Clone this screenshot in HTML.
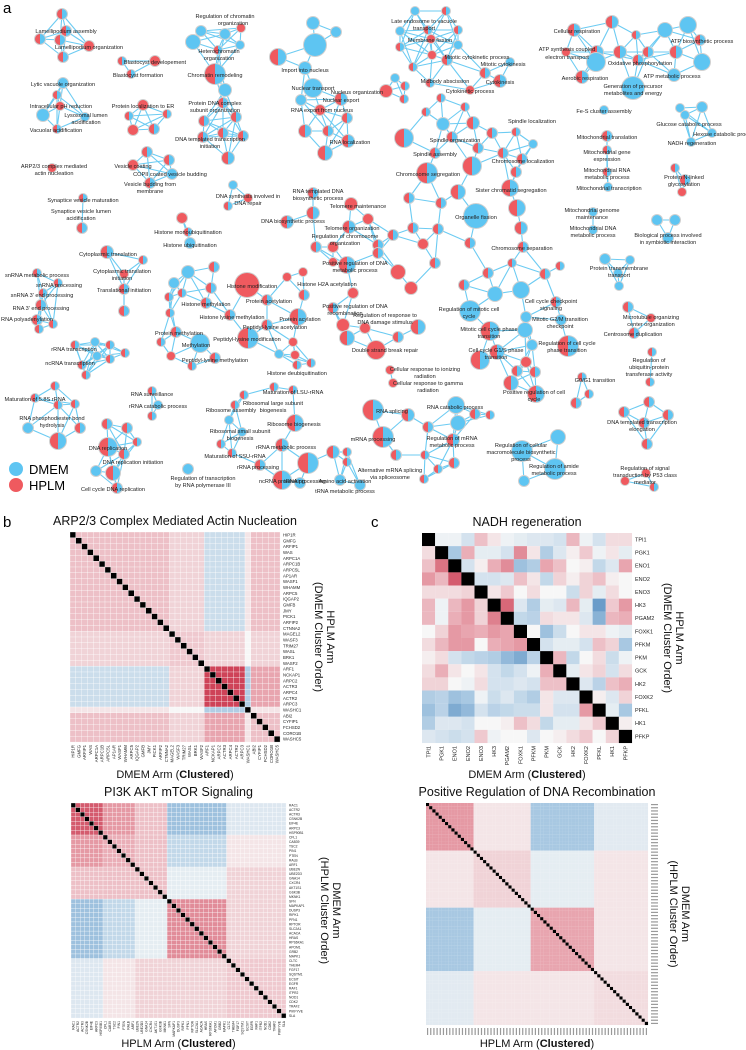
<!DOCTYPE html>
<html><head><meta charset="utf-8"><style>
html,body{margin:0;padding:0;background:#fff;}
svg{display:block;font-family:"Liberation Sans",Arial,sans-serif;}
</style></head><body>
<svg id="fig" width="746" height="1050" viewBox="0 0 746 1050" xmlns="http://www.w3.org/2000/svg">
<g id="net"></g>
<g id="hm"></g>
<text x="3" y="13" font-size="15">a</text>
<text x="3" y="527" font-size="15">b</text>
<text x="371" y="527" font-size="15">c</text>
<g>
<circle cx="16" cy="469" r="7" fill="#5ec5f2"/>
<text x="29" y="474" font-size="13">DMEM</text>
<circle cx="16" cy="485" r="7" fill="#ef5a5f"/>
<text x="29" y="490" font-size="13">HPLM</text>
</g>
</svg>
<script>
// ---------- Network data ----------
const nodes = [
[62,14,5,'h',1],[66,31,5,'h',1],[40,39,5,'h',1],[60,40,5,'h',1],[89,46,5,'r',1],[63,57,5,'h',1],
[122,61,4,'h',2],[155,61,5,'r',2],[131,74,4,'h',2],
[193,42,7,'b',3],[201,31,5,'b',3],[225,34,5,'b',3],[241,28,4,'r',3],[240,45,4,'b',3],[218,50,4,'h',3],[215,74,10,'h',3],[225,90,6,'b',3],
[223,103,5,'h',3],[236,117,5,'h',3],[204,121,5,'h',3],[223,133,5,'h',3],[243,136,5,'h',3],[203,137,5,'h',3],[228,158,6,'h',3],
[313,23,6,'b',4],[336,32,5,'b',4],[315,45,11,'b',4],[278,57,8,'h',4],[305,68,6,'b',4],[313,88,9,'b',4],[301,100,5,'b',4],[341,99,6,'h',4],[347,118,5,'h',4],[320,110,5,'r',4],[305,131,6,'h',4],[328,131,5,'h',4],[348,141,6,'h',4],[325,153,7,'h',4],
[63,83,5,'b',5],[57,95,4,'h',5],[60,106,4,'r',5],[43,115,6,'b',5],[85,117,4,'b',5],[57,129,4,'h',5],
[143,105,5,'r',6],[129,116,4,'h',6],[167,114,4,'h',6],[133,130,5,'r',6],[154,129,5,'h',6],
[52,168,4,'r',8],
[147,152,5,'h',9],[169,160,5,'h',9],[133,165,5,'r',9],[172,174,5,'b',9],[150,183,5,'h',9],
[233,185,4,'b',10],[248,198,4,'r',10],[228,206,4,'h',10],
[83,198,4,'h',11],[82,228,5,'h',11],
[182,218,5,'r',12],[188,232,4,'h',12],[190,243,5,'b',12],
[313,193,5,'h',13],[351,204,6,'r',13],[313,213,6,'h',13],[287,222,6,'h',13],[349,227,6,'h',13],[368,219,5,'r',13],[333,247,5,'r',13],[316,247,5,'h',13],[378,245,5,'h',13],[393,235,5,'h',13],[413,228,5,'h',13],[438,229,5,'h',13],[423,244,5,'r',13],[409,198,5,'h',13],[441,203,5,'h',13],[458,192,7,'h',13],[476,216,12,'b',13],[517,208,8,'h',13],[521,228,6,'h',13],[510,188,8,'h',13],[427,173,10,'h',13],[472,166,9,'h',13],[516,172,5,'h',13],[435,153,5,'h',13],[478,148,5,'h',13],[503,153,5,'h',13],[522,159,5,'h',13],[404,138,9,'h',13],[452,137,5,'h',13],[492,133,5,'h',13],[516,132,4,'h',13],[533,144,4,'b',13],[443,124,6,'b',13],[473,123,6,'h',13],[426,112,4,'h',13],[465,107,4,'h',13],[441,98,4,'h',13],
[523,247,5,'h',13],[470,243,5,'h',13],[435,263,5,'h',13],[488,273,5,'h',13],[464,285,5,'h',13],[512,263,4,'h',13],[545,274,5,'h',13],[560,266,4,'h',13],
[347,265,8,'h',13],[333,262,4,'r',13],[378,253,5,'h',13],[398,272,7,'r',13],[411,288,6,'r',13],[353,293,5,'r',13],[333,308,5,'h',13],[343,325,6,'r',13],[347,338,7,'h',13],[365,328,5,'r',13],[376,350,9,'r',13],[398,337,5,'h',13],[418,327,7,'h',13],
[470,311,10,'b',13],[495,294,7,'b',13],[521,290,8,'b',13],[556,302,5,'h',13],[526,317,5,'b',13],[561,320,5,'b',13],[490,331,9,'h',13],[525,330,7,'b',13],[497,352,7,'h',13],[532,345,5,'b',13],[568,346,10,'h',13],[480,360,9,'h',13],[526,362,5,'r',13],[517,371,5,'h',13],[535,372,5,'h',13],[511,383,7,'h',13],[536,394,8,'h',13],
[415,11,4,'b',14],[446,11,4,'h',14],[400,31,4,'b',14],[428,30,4,'h',14],[458,30,4,'h',14],[431,39,4,'r',14],[400,47,4,'h',14],[458,45,4,'b',14],[447,60,5,'h',14],[432,55,4,'r',14],[413,67,4,'h',14],[485,73,5,'h',14],[510,62,4,'b',14],[500,81,6,'h',14],[470,90,4,'r',14],[430,83,4,'h',14],
[395,78,4,'b',37],[386,91,6,'r',37],[405,86,4,'h',37],[404,99,4,'h',37],
[574,30,6,'h',15],[612,22,6,'h',15],[636,35,4,'h',15],[620,52,6,'h',15],[566,52,4,'r',15],[597,52,6,'h',15],[596,62,9,'b',15],[638,60,5,'h',15],[582,77,6,'h',15],[633,88,11,'b',15],[648,52,5,'h',15],[665,30,7,'b',15],[688,25,8,'b',15],[700,40,5,'h',15],[676,52,6,'h',15],[702,62,8,'b',15],[674,75,6,'b',15],
[604,110,4,'b',16],
[680,108,4,'b',17],[702,107,5,'b',17],[685,115,4,'b',17],[712,133,4,'b',17],[691,142,4,'b',17],
[607,136,5,'h',18],[607,150,4,'h',18],[607,172,4,'h',18],[608,187,4,'b',18],
[675,168,4,'h',19],[685,180,5,'h',19],[682,192,4,'r',19],
[593,212,4,'b',20],[593,230,4,'b',20],
[657,220,5,'b',21],[675,220,5,'b',21],[668,238,5,'b',21],
[107,252,6,'h',22],[143,260,4,'h',22],[124,274,4,'r',22],[124,289,5,'h',22],[124,311,5,'h',22],
[37,273,4,'h',23],[58,283,4,'h',23],[43,293,4,'h',23],[41,305,5,'h',23],[37,320,5,'h',23],[39,329,4,'h',23],[53,324,4,'h',23],
[75,345,4,'h',24],[95,342,4,'b',24],[110,345,4,'h',24],[97,356,4,'b',24],[110,359,4,'h',24],[125,353,4,'h',24],[82,365,4,'h',24],[86,375,4,'h',24],
[188,272,6,'b',25],[214,267,5,'h',25],[247,285,12,'r',25],[174,283,5,'b',25],[182,293,4,'h',25],[211,288,5,'h',25],[169,297,4,'h',25],[206,303,5,'h',25],[230,315,5,'h',25],[170,313,4,'h',25],[176,332,5,'h',25],[161,342,4,'h',25],[200,343,9,'b',25],[248,338,10,'h',25],[171,356,4,'r',25],[192,366,4,'h',25],[215,358,5,'h',25],[267,300,5,'h',25],[267,325,5,'h',25],[287,277,4,'r',25],[303,272,4,'r',25],[304,295,5,'h',25],[298,317,8,'h',25],[293,342,4,'r',25],[279,354,4,'b',25],[295,355,4,'r',25],[297,365,4,'h',25],[311,363,4,'h',25],
[55,386,4,'h',26],[35,398,4,'h',26],[58,405,4,'h',26],[75,404,4,'h',26],[28,428,5,'b',26],[58,441,8,'h',26],[80,428,5,'h',26],
[152,391,4,'h',27],[158,405,4,'b',27],[152,416,4,'h',27],
[107,424,5,'h',28],[127,428,5,'h',28],[137,442,4,'h',28],[108,447,9,'h',28],[124,454,5,'h',28],[113,473,7,'h',28],[96,471,5,'b',28],[117,488,5,'h',28],
[244,395,4,'h',29],[274,387,4,'h',29],[293,390,4,'h',29],[235,405,4,'h',29],[229,420,4,'b',29],[295,423,8,'h',29],[242,432,4,'b',29],[221,444,4,'h',29],[232,453,4,'h',29],[282,445,6,'h',29],[260,465,5,'h',29],[308,463,10,'h',29],[282,480,9,'h',29],[188,469,5,'b',29],[333,452,6,'h',29],[347,452,4,'h',29],[373,410,10,'h',29],[383,437,10,'h',29],[408,415,6,'h',29],[428,427,5,'h',29],[456,405,8,'b',29],[458,423,7,'b',29],[475,414,5,'h',29],[490,415,4,'h',29],[453,440,6,'h',29],[396,455,5,'h',29],[425,455,4,'h',29],[438,469,4,'h',29],[454,463,5,'h',29],[424,479,4,'h',29],[347,462,4,'h',29],[300,483,5,'b',29],[340,480,5,'b',29],[360,485,5,'b',29],
[522,451,10,'b',30],[558,437,7,'b',30],[555,469,10,'b',30],[524,481,5,'b',30],
[582,377,4,'h',31],[589,394,4,'h',31],[576,403,5,'h',31],
[605,259,5,'b',32],[630,260,4,'b',32],[618,273,4,'b',32],[619,286,4,'b',32],
[628,307,5,'h',33],[651,318,4,'r',33],[634,333,5,'h',33],
[652,352,4,'h',34],[650,382,4,'h',34],
[649,402,5,'h',35],[624,412,5,'h',35],[668,415,5,'h',35],[644,423,5,'h',35],[647,444,5,'h',35],
[625,481,4,'r',36],[646,473,4,'r',36],[654,487,4,'h',36],
[390,370,4,'r',38],[393,383,4,'r',38]
];
const netLabels = [
[66,31,"Lamellipodium assembly"],[89,47,"Lamellipodium organization"],[225,16,"Regulation of chromatin"],[233,23,"organization"],
[219,51,"Heterochromatin"],[219,58,"organization"],[155,62,"Blastocyst developement"],[138,75,"Blastocyst formation"],[215,75,"Chromatin remodeling"],
[305,70,"Import into nucleus"],[313,88,"Nuclear transport"],[341,100,"Nuclear export"],[322,110,"RNA export from nucleus"],[350,142,"RNA localization"],
[63,84,"Lytic vacuole organization"],[61,106,"Intracellular pH reduction"],[86,115,"Lysosomal lumen"],[86,122,"acidification"],[56,130,"Vacuolar acidification"],
[143,106,"Protein localization to ER"],[215,103,"Protein DNA complex"],[215,110,"subunit organization"],[210,139,"DNA templated transcription"],[210,146,"initiation"],
[54,166,"ARP2/3 complex mediated"],[54,173,"actin nucleation"],[133,166,"Vesicle coating"],[170,174,"COPII coated vesicle budding"],[150,184,"Vesicle budding from"],[150,191,"membrane"],
[248,196,"DNA synthesis involved in"],[248,203,"DNA repair"],[83,200,"Synaptice vesicle maturation"],[81,211,"Synaptice vesicle lumen"],[81,218,"acidification"],
[188,232,"Histone monoubiquitination"],[190,245,"Histone ubiquitination"],[318,191,"RNA templated DNA"],[318,198,"biosynthetic process"],[358,206,"Telomere maintenance"],
[293,221,"DNA biosynthetic process"],[352,228,"Telomere organization"],[345,236,"Regulation of chromosome"],[345,243,"organization"],
[424,21,"Late endosome to vacuole"],[424,28,"transport"],[430,40,"Membrane fission"],[477,57,"Mitotic cytokinetic process"],[503,64,"Mitotic cytokinesis"],[500,82,"Cytokinesis"],
[445,81,"Midbody abscission"],[470,91,"Cytokinetic process"],[357,92,"Nucleus organization"],[532,121,"Spindle localization"],[455,140,"Spindle organization"],[435,154,"Spindle assembly"],
[523,161,"Chromosome localization"],[428,174,"Chromosome segregation"],[511,190,"Sister chromatid segregation"],[476,217,"Organelle fission"],[522,248,"Chromosome separation"],
[577,31,"Cellular respiration"],[567,49,"ATP synthesis coupled"],[567,57,"electron transport"],[640,63,"Oxidative phosphorylation"],[702,41,"ATP biosynthetic process"],
[585,78,"Aerobic respiration"],[633,86,"Generation of precursor"],[633,93,"metabolites and energy"],[672,76,"ATP metabolic process"],[604,111,"Fe-S cluster assembly"],
[689,124,"Glucose catabolic process"],[725,134,"Hexose catabolic process"],[692,143,"NADH regeneration"],[607,137,"Mitochondrial translation"],[607,152,"Mitochondrial gene"],
[607,159,"expression"],[607,170,"Mitochondrial RNA"],[607,177,"metabolic process"],[609,188,"Mitochondrial transcription"],[684,177,"Protein N-linked"],[684,184,"glycosylation"],
[592,210,"Mitochondrial genome"],[592,217,"maintenance"],[593,228,"Mitochondrial DNA"],[593,235,"metabolic process"],[668,235,"Biological process involved"],[668,242,"in symbiotic interaction"],
[108,254,"Cytoplasmic translation"],[122,271,"Cytoplasmic translation"],[122,278,"initiation"],[124,290,"Translational initiation"],[37,275,"snRNA metabolic process"],
[59,285,"snRNA processing"],[42,295,"snRNA 3' end processing"],[41,308,"RNA 3' end processing"],[27,319,"RNA polyadenylation"],[252,286,"Histone modification"],
[206,304,"Histone methylation"],[232,317,"Histone lysine methylation"],[269,301,"Protein acetylation"],[327,284,"Histone H2A acetylation"],[355,263,"Positive regulation of DNA"],
[355,270,"metabolic process"],[355,306,"Positive regulation of DNA"],[345,313,"recombination"],[385,315,"Regulation of response to"],[385,322,"DNA damage stimulus"],
[275,327,"Peptidyl-lysine acetylation"],[300,319,"Protein acylation"],[179,333,"Protein methylation"],[196,345,"Methylation"],[247,339,"Peptidyl-lysine modification"],
[215,360,"Peptidyl-lysine methylation"],[74,349,"rRNA transcription"],[70,363,"ncRNA transcription"],[297,373,"Histone deubiquitination"],[385,350,"Double strand break repair"],
[425,369,"Cellular response to ionizing"],[425,376,"radiation"],[428,383,"Cellular response to gamma"],[428,390,"radiation"],
[35,399,"Maturation of 5.8S rRNA"],[52,418,"RNA phosphodiester bond"],[52,425,"hydrolysis"],[152,394,"RNA surveillance"],[158,406,"rRNA catabolic process"],
[293,392,"Maturation of LSU-rRNA"],[273,403,"Ribosomal large subunit"],[273,410,"biogenesis"],[231,410,"Ribosome assembly"],[294,424,"Ribosome biogenesis"],
[240,431,"Ribosomal small subunit"],[240,438,"biogenesis"],[286,447,"rRNA metabolic process"],[235,456,"Maturation of SSU-rRNA"],[258,467,"rRNA processing"],[282,481,"ncRNA processing"],
[203,478,"Regulation of transcription"],[203,485,"by RNA polymerase III"],[108,448,"DNA replication"],[133,462,"DNA replication initiation"],[113,489,"Cell cycle DNA replication"],
[392,411,"RNA splicing"],[373,439,"mRNA processing"],[390,470,"Alternative mRNA splicing"],[390,477,"via spliceosome"],[305,481,"tRNA processing"],[345,481,"Amino acid activation"],[345,491,"tRNA metabolic process"],
[619,268,"Protein transmembrane"],[619,275,"transport"],[469,309,"Regulation of mitotic cell"],[469,316,"cycle"],[551,301,"Cell cycle checkpoint"],[551,308,"signaling"],
[560,319,"Mitotic G2/M transition"],[560,326,"checkpoint"],[489,329,"Mitotic cell cycle phase"],[489,336,"transition"],[567,343,"Regulation of cell cycle"],[567,350,"phase transition"],
[496,350,"Cell cycle G1/S phase"],[496,357,"transition"],[651,317,"Microtubule organizing"],[651,324,"center organization"],[633,334,"Centrosome duplication"],
[649,360,"Regulation of"],[649,367,"ubiquitin-protein"],[649,374,"transferase activity"],[595,380,"G0/G1 transition"],[534,392,"Positive regulation of cell"],[534,399,"cycle"],
[455,407,"RNA catabolic process"],[642,422,"DNA templated transcription"],[642,429,"elongation"],[452,438,"Regulation of mRNA"],[452,445,"metabolic process"],
[521,445,"Regulation of cellular"],[521,452,"macromolecule biosynthetic"],[521,459,"process"],[554,466,"Regulation of amide"],[554,473,"metabolic process"],
[645,468,"Regulation of signal"],[645,475,"transduction by P53 class"],[645,482,"mediator"]
];
const BLUE="#5ec5f2", RED="#ef5a5f", NS="http://www.w3.org/2000/svg";
function mk(tag,attrs,parent){const e=document.createElementNS(NS,tag);for(const k in attrs)e.setAttribute(k,attrs[k]);parent.appendChild(e);return e;}
const net=document.getElementById('net');
const eg=mk('g',{},net);


for(let i=0;i<nodes.length;i++)for(let j=i+1;j<nodes.length;j++){
  const a=nodes[i],b=nodes[j]; if(a[4]!==b[4])continue;
  const d=Math.hypot(a[0]-b[0],a[1]-b[1]); const th=(a[4]===13||a[4]===25||a[4]===29)?36:42;
  if(d<th){const l=mk('line',{x1:a[0],y1:a[1],x2:b[0],y2:b[1],stroke:'#6ccbf2','stroke-width':1.1},eg);
    
    }
}
nodes.forEach(n=>{
  const [x,y,r,t]=n; const g=mk('g',{},net);
  
  
  mk('circle',{cx:x,cy:y,r:r+1,fill:'#d0d0d0'},g);
  if(t==='h'){mk('circle',{cx:x,cy:y,r:r,fill:BLUE},g);
    mk('path',{d:`M${x},${y-r} A${r},${r} 0 0 0 ${x},${y+r} Z`,fill:RED},g);}
  else mk('circle',{cx:x,cy:y,r:r,fill:t==='b'?BLUE:RED},g);
});
netLabels.forEach(L=>{const t=mk('text',{x:L[0],y:L[1]+2,'font-size':5.6,'text-anchor':'middle',fill:'#222'},net);t.textContent=L[2];
  
  });

// ---------- Heatmap data ----------
const arpGenes=["HIP1R","GMFG","ARFIP1","WAS","ARPC1A","ARPC1B","ARPC5L","AP1AR","WASF1","WHAMM","ARPC5","IQGAP2","GMFB","JMY","PICK1","ARFIP2","CTNNA2","MAGEL2","WASF3","TRIM27","WASL","BRK1","WASF2","ARF1","NCKAP1","ARPC2","ACTR3","ARPC4","ACTR2","ARPC3","WASHC1","ABI2","CYFIP1","FCHSD2","CORO1B","WASHC5"];
const arpGroups=[0,0,0,0,0,0,0,0,0,0,0,0,0,0,0,0,0,1,1,1,1,1,1,2,2,2,2,2,2,2,3,4,4,4,4,4];
const arpBlocks=[[0.3,0.2,-0.25,0.1,0.3],[0.2,0.25,0.2,0,0.2],[-0.25,0.2,0.85,-0.4,0.45],[0.1,0,-0.4,0,0.1],[0.3,0.2,0.45,0.1,0.3]];
const nadhGenes=["TPI1","PGK1","ENO1","ENO2","ENO3","HK3","PGAM2","FOXK1","PFKM","PKM","GCK","HK2","FOXK2","PFKL","HK1","PFKP"];
const nadhValues=[
[0,-0.05,-0.05,-0.2,0.3,0.1,-0.05,-0.1,-0.15,-0.15,-0.2,0.35,-0.05,-0.2,0.15,0.15],
[0.15,0,-0.45,0.4,-0.1,-0.1,-0.2,0.55,0.1,-0.4,-0.15,0.05,0.25,-0.05,0.1,-0.1],
[0.3,0.65,0,-0.2,0.05,0.4,0.55,-0.5,-0.4,0.45,0.3,0,0.05,-0.3,-0.15,0.45],
[0.5,0.35,0.75,0,-0.2,-0.2,-0.15,0.3,0.1,-0.3,0.2,0.05,0.2,0.3,0.05,0],
[0.15,0.15,0.15,0.2,0,0.1,0.25,0,0.15,0,0,-0.25,0.2,-0.1,0.15,0],
[0.35,-0.05,0.35,0.5,0.2,0,0.7,-0.15,-0.4,-0.1,-0.15,0.35,-0.1,-0.75,0.25,0.5],
[0.35,-0.05,0.4,0.5,0.2,0.6,0,-0.3,-0.35,0.15,0.1,0.1,-0.15,-0.6,0.35,0.4],
[0,0.2,0.5,0.45,0.4,0.5,0.45,0,0,-0.5,-0.25,0,0.1,0.1,-0.05,-0.1],
[0.15,0.35,0.5,0.5,0,0.4,0.45,0.5,0,-0.2,-0.1,-0.1,-0.2,0.3,0.2,-0.45],
[0.05,0.15,-0.2,-0.3,-0.35,-0.4,-0.55,-0.65,-0.35,0,0.35,-0.3,0,0.15,-0.25,-0.05],
[0.15,0.4,0.1,0,0.1,-0.2,-0.3,-0.2,-0.05,0.4,0,-0.1,0.1,0.2,-0.2,0.15],
[0.2,0.2,0,-0.05,0.15,-0.2,-0.2,-0.15,-0.2,0.3,0.3,0,-0.15,-0.35,0.3,0.4],
[-0.4,-0.35,-0.5,-0.45,-0.05,-0.25,-0.15,-0.3,-0.4,0.1,-0.15,-0.15,0,0.05,-0.15,0.2],
[-0.5,-0.35,-0.65,-0.55,-0.2,-0.35,-0.3,-0.25,-0.25,0.1,-0.2,-0.2,0.5,0,-0.1,-0.45],
[-0.4,-0.15,-0.15,-0.2,0,0,0.05,0.3,0.15,-0.3,-0.1,-0.1,0.1,0.25,0,0.05],
[-0.15,-0.2,-0.25,-0.2,0.25,-0.05,0,0,-0.15,0,0.05,0.15,0.25,0,0.2,0]];
const pi3kGenes=["RAC1","ACTR2","ACTR3","CSNK2B","EIF4E","ARPC3","HSP90B1","CFL1","CAB39","TSC2","PIN1","PTEN","RALB","ARF1","UBE2N","UBE2D3","GNA14","CXCR4","AKT1S1","GSK3B","MKNK1","SFN","MAPKAP1","DUSP3","RIPK1","PFN1","RPTOR","SLC2A1","ACACA","HRAS","RPS6KA1","APOM1","GRB2","MAPK1","CLTC","THEM4","FGF17","SQSTM1","ECSIT","EGFR","RAF1","ITPR2","NOD1","CDK2","TRAF2","PIKFYVE","SLA"];
const pi3kGroups=[0,0,0,0,0,0,0,1,1,1,1,1,1,1,2,2,2,2,2,2,2,3,3,3,3,3,3,3,3,3,3,3,3,3,4,4,4,4,4,4,4,4,4,4,4,4,4];
const pi3kBlocks=[[0.75,0.5,0.3,-0.5,-0.15],[0.5,0.4,0.3,-0.3,0.1],[0.3,0.3,0.3,-0.1,0.2],[-0.5,-0.3,-0.1,0.55,0.2],[-0.15,0.1,0.2,0.2,0.25]];
const dnaGroups=[0,0,0,0,0,0,0,0,0,0,0,0,0,0,0,1,1,1,1,1,1,1,1,1,1,1,1,1,1,1,1,1,1,2,2,2,2,2,2,2,2,2,2,2,2,2,2,2,2,2,2,2,2,3,3,3,3,3,3,3,3,3,3,3,3,3,3,3,3,3];
const dnaBlocks=[[0.5,0.1,-0.45,-0.12],[0.1,0.2,-0.1,0.1],[-0.45,-0.1,0.45,0.1],[-0.12,0.1,0.1,0.15]];

function col(v){v=Math.max(-1,Math.min(1,v));const W=[247,247,247];let c;
  if(v>=0){const A=[232,165,175],B=[196,30,55];c=v<0.45?W.map((w,i)=>w+(A[i]-w)*v/0.45):A.map((a,i)=>a+(B[i]-a)*(v-0.45)/0.55);}
  else{const u=-v,A=[168,200,226],B=[55,120,180];c=u<0.45?W.map((w,i)=>w+(A[i]-w)*u/0.45):A.map((a,i)=>a+(B[i]-a)*(u-0.45)/0.55);}
  return `rgb(${c.map(Math.round).join(',')})`;}
const hm=document.getElementById('hm');
function heatmap(o){
  const g=mk('g',{},hm);
  
  
  const n=o.n, cs=o.size/n;
  for(let i=0;i<n;i++)for(let j=0;j<n;j++){
    const v=i===j?null:o.val(i,j);
    const r=mk('rect',{x:o.x+j*cs,y:o.y+i*cs,width:cs+0.05,height:cs+0.05,fill:v===null?'#000':col(v),stroke:o.grid?'#fff':'none','stroke-width':o.grid?0.3:0},g);
    
    
  }
  for(let i=0;i<n;i++){
    if(o.labels){
      const t=mk('text',{x:o.x+o.size+3,y:o.y+(i+0.5)*cs+o.fs*0.35,'font-size':o.fs,fill:'#222'},g);t.textContent=o.labels[i];
      
      
      const cx=o.x+(i+0.5)*cs+o.fs*0.35, cy=o.y+o.size+3;
      const c=mk('text',{x:cx,y:cy,'font-size':o.fs,fill:'#222','text-anchor':'end',transform:`rotate(-90 ${cx} ${cy})`},g);c.textContent=o.labels[i];
      
      
    } else {
      const a=mk('rect',{x:o.x+o.size+3,y:o.y+(i+0.5)*cs-0.6,width:7,height:1.2,fill:'#999'},g);
      
      
      const b=mk('rect',{x:o.x+(i+0.5)*cs-0.6,y:o.y+o.size+3,width:1.2,height:7,fill:'#999'},g);
      
      
    }
  }
  const cx=o.x+o.size/2;
  const t=mk('text',{x:cx,y:o.y-7,'font-size':12.5,'text-anchor':'middle',fill:'#111'},g);t.textContent=o.title;
  
  
  const xt=mk('text',{x:cx,y:o.xty,'font-size':11,'text-anchor':'middle',fill:'#111'},g);
  xt.innerHTML=o.xt+' (<tspan font-weight="bold">Clustered</tspan>)';
  
  
  const my=o.y+o.size/2;
  const y1=mk('text',{x:o.ytx,y:my,'font-size':11,'text-anchor':'middle',fill:'#111',transform:`rotate(90 ${o.ytx} ${my})`},g);y1.textContent=o.yt1;
  
  
  const y2=mk('text',{x:o.ytx-12,y:my,'font-size':11,'text-anchor':'middle',fill:'#111',transform:`rotate(90 ${o.ytx-12} ${my})`},g);y2.textContent=o.yt2;
  
  
}
heatmap({name:'heatmap-arp23',x:70,y:532,size:210,n:arpGenes.length,labels:arpGenes,fs:4.3,grid:true,
  val:(i,j)=>arpBlocks[arpGroups[i]][arpGroups[j]],title:'ARP2/3 Complex Mediated Actin Nucleation',
  xt:'DMEM Arm',xty:778,ytx:327,yt1:'HPLM Arm',yt2:'(DMEM Cluster Order)'});
heatmap({name:'heatmap-nadh',x:422,y:533,size:210,n:nadhGenes.length,labels:nadhGenes,fs:5.5,grid:false,
  val:(i,j)=>nadhValues[i][j],title:'NADH regeneration',
  xt:'DMEM Arm',xty:778,ytx:676,yt1:'HPLM Arm',yt2:'(DMEM Cluster Order)'});
heatmap({name:'heatmap-pi3k',x:71,y:803,size:215,n:pi3kGenes.length,labels:pi3kGenes,fs:3.3,grid:true,
  val:(i,j)=>pi3kBlocks[pi3kGroups[i]][pi3kGroups[j]],title:'PI3K AKT mTOR Signaling',
  xt:'HPLM Arm',xty:1047,ytx:333,yt1:'DMEM Arm',yt2:'(HPLM Cluster Order)'});
heatmap({name:'heatmap-dna-recombination',x:426,y:803,size:222,n:dnaGroups.length,labels:null,fs:3,grid:false,
  val:(i,j)=>dnaBlocks[dnaGroups[i]][dnaGroups[j]],title:'Positive Regulation of DNA Recombination',
  xt:'HPLM Arm',xty:1047,ytx:682,yt1:'DMEM Arm',yt2:'(HPLM Cluster Order)'});
</script>
</body></html>
